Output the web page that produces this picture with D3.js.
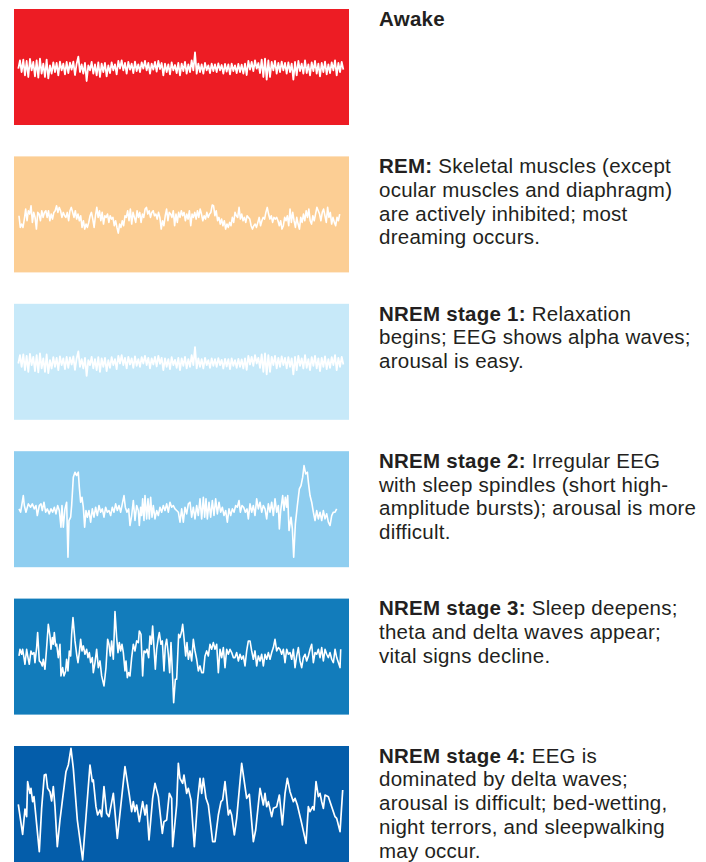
<!DOCTYPE html>
<html>
<head>
<meta charset="utf-8">
<script src="https://cdn.jsdelivr.net/npm/d3@7"></script>
<style>
  html, body { margin: 0; padding: 0; background: #ffffff; }
  svg { display: block; }
</style>
</head>
<body>
<svg id="chart" width="706" height="862"></svg>
<script>
// ---------- DATA ----------
const stages = ["Awake", "REM", "NREM stage 1", "NREM stage 2", "NREM stage 3", "NREM stage 4"];
const panelColors = ["#ED1C24", "#FCCE94", "#C7E9F9", "#8FCEF0", "#127CBB", "#045DAA"];

const descriptions = [
  [["Awake", ""]],
  [["REM:", " Skeletal muscles (except"], ["", "ocular muscles and diaphragm)"], ["", "are actively inhibited; most"], ["", "dreaming occurs."]],
  [["NREM stage 1:", " Relaxation"], ["", "begins; EEG shows alpha waves;"], ["", "arousal is easy."]],
  [["NREM stage 2:", " Irregular EEG"], ["", "with sleep spindles (short high-"], ["", "amplitude bursts); arousal is more"], ["", "difficult."]],
  [["NREM stage 3:", " Sleep deepens;"], ["", "theta and delta waves appear;"], ["", "vital signs decline."]],
  [["NREM stage 4:", " EEG is"], ["", "dominated by delta waves;"], ["", "arousal is difficult; bed-wetting,"], ["", "night terrors, and sleepwalking"], ["", "may occur."]]
];

// EEG amplitude samples (arbitrary units, uniform sampling)
const awakeValues = [
  -5, 20, -15, 22, -25, 18, -30, 24, -10, 15, -28, 20, -32, 25, -20, 10, -30, 22, -34,
  5, -20, 14, -15, 12, -25, 16, -10, 10, -22, 15, -18, 13, -8, 16, -24, 10, 31, -15, 8, -20, 12, -42, 5,
  -10, 15, -20, 8, -25, 14, -30, 10, -15, 12, -28, 5, -18, 14, -10, 8, -22,
  18, -5, 20, -10, 12, -20, 15, -8, 10, -18, 16, -12, 8, -15, 14, -5, 18, -10, 12, -20, 10, -8, 15, -14, 18, -6,
  12, -25, 10, -15, 8, -22, 14, -10, 6, -18, 12, -25, 10, -12, 15, -20, 8, -15, 20, -10, 44, -20,
  10, -15, 8, -20, 12, -10, 5, -18, 10, -12, 8, -15, 11, -10, 6, -20, 9, -14, 8, -22, 10, -12, 5, -18, 9, -15, 7, -20, 10, -24,
  18, -8, 15, -12, 20, -5, 12, -18, 22, -30, 25, -38, 20, -30, 15, -10, 18, -20, 12, -15,
  16, -10, 12, -20, 14, -15, 10, -38, 15, -25, 18, -12, 10, -20, 20, -18, 8, -25, 14, -12, 18, -20, 10, -28, 12, -15, 16, -22, 8, -18, 14, -10, 20, -25, 12, -15, 15, -8
];
const nrem1Values = awakeValues; // same trace as awake in the figure

const remValues = [
  -4, -39, -29, -39, -14, 16, -19, 11, 1, 26, -24, 6, -9, -44, 6, 1, -19, 11, -9, 6, 11, -9, 11, -19, 1, -14, 6, 11, 26, 6,
  21, 11, -9, 6, -4, -9, 6, -19, 11, 21, 6, -9, 11, -14, 1, -19, -4, -39, -19, -44, -29, -39, -24, -4, 6, -14, -39, -4, 21, -9,
  11, -19, 6, -29, -4, -9, 1, -24, -4, -14, -9, -34, -19, -39, -56, -29, -39, -19, -34, -4, -9, 11, -19, 16, -29, 6, -9, -24, 11, -9,
  6, -24, 1, -9, 16, 21, 1, 11, -9, 6, 11, -4, 1, -14, 6, -9, -44, -19, -34, -4, 16, -19, 6, 1, -9, 11, -34, 1, -24, 6,
  -9, 11, -4, 6, -19, 1, -14, 11, -34, 1, -9, 6, -14, 11, -9, 16, 1, -19, -4, -14, 6, -9, 1, 6, 28, 26, -4, 11, -19, -9,
  -29, -14, -34, -19, -44, -29, -39, -24, -34, -9, -24, 6, -4, -9, 21, -14, 1, -19, -9, -24, -4, -9, -14, -34, -44, -34, -29, -39, -24, -9,
  -34, -19, -9, -14, 6, 21, 1, -14, -4, -24, -9, -14, -9, -19, -34, -19, -44, -34, -9, -19, -4, -34, 16, -24, 6, -19, -39, -9, -29, -44,
  -9, -24, 1, -19, 11, -9, 16, -19, -29, -4, -19, 1, 21, 11, 1, -19, 6, 16, -4, -24, 21, -9, 6, -29, -9, -24, -34, -9, -19, 1
];

// EEG samples as [time, amplitude] pairs
const nrem2Points = [
  [2,1],[7,-9],[15,41],[18,11],[23,-9],[30,16],[37,6],[42,16],[48,1],[53,11],[57,-19],[63,11],[68,16],[72,-4],[77,21],[82,-9],
  [87,1],[93,-14],[98,1],[103,-9],[108,6],[113,-14],[118,11],[123,-4],[128,-54],[131,11],[135,-54],[140,1],[145,21],[149,-144],
  [152,-34],[157,-24],[160,11],[165,96],[170,111],[175,101],[180,111],[183,66],[187,21],[191,36],[195,6],[199,-54],[203,-4],
  [207,-24],[212,-4],[217,-39],[222,1],[227,-24],[232,6],[237,-19],[242,11],[247,-9],[252,1],[257,-24],[262,6],[267,-9],
  [272,-4],[277,-19],[282,6],[287,-9],[292,16],[297,-4],[302,11],[307,-9],[313,21],[317,41],[321,6],[326,-9],[331,1],[335,-49],
  [340,-19],[345,26],[350,-34],[355,11],[360,-4],[363,-49],[367,6],[370,-19],[373,31],[377,-34],[380,41],[385,-29],[389,31],
  [393,-29],[397,36],[401,-24],[405,11],[410,-29],[415,-4],[420,-19],[425,6],[430,-9],[435,11],[440,-4],[445,16],[450,-9],
  [455,21],[460,6],[465,11],[470,1],[475,-4],[480,-9],[485,-39],[490,1],[495,-39],[500,6],[505,-14],[510,16],[515,21],[520,-24],
  [525,6],[530,-29],[535,11],[540,-19],[545,31],[550,-29],[555,36],[559,-24],[563,31],[567,-29],[572,21],[577,-24],[582,26],
  [587,-19],[592,31],[597,-14],[602,21],[607,-9],[612,6],[617,-19],[622,-4],[627,-39],[632,1],[637,-19],[642,1],[647,-9],
  [652,11],[657,6],[662,26],[666,-9],[671,11],[676,6],[681,-9],[686,1],[690,-29],[695,16],[700,-9],[705,11],[710,-19],[715,31],
  [720,1],[725,21],[730,-9],[735,11],[740,1],[745,-29],[750,16],[755,-9],[760,21],[765,-19],[770,31],[775,-9],[780,11],
  [783,-59],[787,-4],[793,41],[797,-4],[801,36],[805,6],[808,41],[812,-64],[818,-24],[822,-59],[826,-144],[831,-44],[837,11],
  [843,61],[848,71],[853,96],[857,131],[862,106],[867,111],[870,81],[875,41],[880,21],[885,-9],[890,-34],[895,-4],[900,-29],
  [905,-9],[910,-34],[915,-4],[920,-29],[925,-14],[930,-39],[935,-49],[940,-19],[945,-9],[950,-9],[955,1]
];

const nrem3Points = [
  [2,2],[5,22],[10,7],[13,22],[17,-3],[20,-23],[25,22],[30,-8],[33,-23],[38,17],[42,7],[47,12],[50,-18],[55,27],[58,72],
  [63,-13],[68,-18],[72,-28],[75,-8],[80,-38],[85,27],[90,97],[95,62],[98,22],[102,57],[105,37],[108,72],[112,32],[115,37],
  [120,-3],[125,37],[128,-58],[133,-33],[137,-58],[142,-43],[145,-8],[149,-43],[153,17],[157,2],[160,67],[164,117],[170,47],
  [175,7],[179,-18],[183,12],[187,52],[191,17],[195,32],[200,7],[205,22],[209,-3],[213,12],[217,-18],[222,-3],[225,-48],
  [230,-18],[235,22],[240,-33],[245,-13],[250,-58],[257,-88],[263,-33],[268,52],[272,37],[276,2],[280,47],[285,-8],[290,135],
  [295,57],[299,12],[303,42],[307,17],[311,37],[315,12],[320,-43],[323,-13],[327,-63],[331,-48],[335,-58],[340,-3],[345,37],
  [350,17],[355,47],[360,42],[363,77],[368,67],[373,-58],[377,17],[382,12],[386,22],[391,-3],[395,62],[399,37],[403,92],
  [407,27],[411,-38],[415,22],[420,57],[423,72],[428,37],[432,47],[437,-43],[441,32],[445,52],[450,7],[454,-48],[458,42],
  [462,-43],[466,-138],[471,-68],[475,-68],[481,67],[485,57],[490,77],[493,97],[497,57],[502,2],[506,42],[510,-8],[515,17],
  [520,-13],[525,52],[530,17],[535,-8],[540,-43],[545,-28],[550,-48],[555,-48],[560,2],[565,17],[570,2],[575,37],[580,22],
  [585,42],[590,22],[595,37],[600,-48],[605,22],[610,-3],[615,27],[620,-33],[625,22],[630,7],[635,22],[640,12],[645,-3],
  [650,-3],[655,12],[660,-13],[665,7],[670,-8],[675,2],[680,-28],[685,17],[690,47],[695,47],[700,17],[705,-8],[710,17],
  [715,-28],[720,2],[725,-13],[730,7],[735,-28],[740,7],[745,-8],[750,12],[755,-8],[760,12],[765,27],[770,52],[775,17],
  [780,27],[785,22],[790,7],[795,22],[800,-18],[805,22],[810,7],[815,12],[820,-8],[825,22],[830,-33],[835,2],[840,27],
  [845,-13],[850,-33],[855,-3],[860,7],[865,-13],[870,2],[875,22],[880,37],[885,-18],[890,12],[895,7],[900,22],[905,-3],
  [910,27],[915,-13],[920,22],[925,7],[930,-3],[935,12],[940,-8],[945,-18],[950,22],[955,-3],[960,-18],[965,-33],[967,22]
];

const nrem4Points = [
  [0,-1],[13,-91],[20,-15],[25,-38],[28,67],[35,32],[38,47],[43,7],[47,22],[63,-143],[70,-13],[78,87],[83,89],[88,47],
  [95,37],[100,9],[105,52],[110,-8],[117,-128],[125,-48],[130,-8],[143,97],[150,117],[158,167],[165,107],[177,-48],
  [193,-168],[215,117],[222,67],[225,72],[233,-8],[238,-33],[245,-18],[250,-38],[257,52],[265,-28],[272,-38],[285,32],
  [297,-103],[320,112],[333,27],[340,-23],[345,7],[350,-23],[355,-3],[363,-53],[373,7],[380,-33],[385,-3],[392,-108],
  [403,17],[410,62],[420,22],[432,-88],[437,-53],[445,-48],[453,32],[460,17],[463,-128],[475,-3],[480,122],[485,77],
  [493,62],[497,87],[505,32],[510,47],[518,12],[528,-128],[538,12],[545,77],[550,32],[555,77],[563,17],[570,-3],
  [583,-113],[590,-113],[600,-33],[608,7],[613,12],[620,67],[630,-33],[635,-18],[640,-33],[648,-93],[655,-43],[670,122],
  [685,17],[693,29],[705,-113],[712,-78],[725,47],[735,-3],[740,32],[745,-8],[750,7],[760,-38],[765,-13],[775,-8],
  [783,27],[792,-63],[800,32],[807,77],[815,37],[825,7],[830,17],[837,-3],[850,-58],[863,-118],[870,-8],[875,-23],
  [883,-8],[887,-18],[893,67],[900,22],[905,32],[910,7],[915,-13],[920,27],[930,22],[940,-8],[950,-38],[955,-43],
  [965,-83],[973,42]
];

// ---------- DRAW ----------
const toPairs = (vals, t0, span) => vals.map((v, i) => [t0 + i * span / (vals.length - 1), v]);
const traces = [
  toPairs(awakeValues, 0, 975),
  toPairs(remValues, 2, 962),
  toPairs(nrem1Values, 0, 975),
  nrem2Points,
  nrem3Points,
  nrem4Points
];
const strokeWidths = [1.8, 1.6, 1.8, 1.6, 1.6, 1.7];

const svg = d3.select("#chart");

const y = d3.scaleBand().domain(stages).range([9, 862]).paddingInner(0.213).paddingOuter(0);
const panelX0 = 14, panelX1 = 349;
const x = d3.scaleLinear().domain([0, 973]).range([18.3, 342.7]);

const panels = svg.selectAll("g.panel").data(stages).join("g")
  .attr("class", "panel")
  .attr("transform", d => `translate(0,${y(d)})`);

panels.append("rect")
  .attr("x", panelX0).attr("y", 0)
  .attr("width", panelX1 - panelX0).attr("height", y.bandwidth())
  .attr("fill", (d, i) => panelColors[i]);

panels.each(function (d, i) {
  const g = d3.select(this);
  const yv = d3.scaleLinear().domain([-174, 174]).range([y.bandwidth(), 0]);
  const line = d3.line().x(p => x(p[0])).y(p => yv(p[1]));
  g.append("path")
    .datum(traces[i])
    .attr("d", line)
    .attr("fill", "none")
    .attr("stroke", "#ffffff")
    .attr("stroke-width", strokeWidths[i])
    .attr("stroke-linejoin", "round");

  const txt = g.append("g").attr("transform", "translate(379,16.8)");
  descriptions[i].forEach((ln, k) => {
    const t = txt.append("text")
      .attr("x", 0).attr("y", k * 23.7)
      .attr("font-family", "'Liberation Sans', Arial, Helvetica, sans-serif")
      .attr("font-size", 20.5)
      .attr("letter-spacing", 0.25)
      .attr("fill", "#231F20");
    if (ln[0]) t.append("tspan").attr("font-weight", "bold").text(ln[0]);
    if (ln[1]) t.append("tspan").text(ln[1]);
  });
});
</script>
</body>
</html>
